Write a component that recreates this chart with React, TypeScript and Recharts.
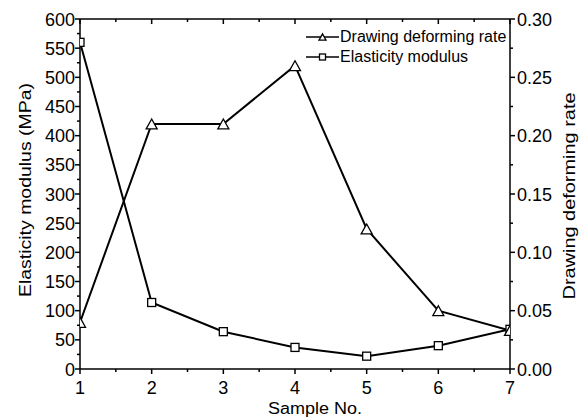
import React from "react";
import { ComposedChart, Line, XAxis, YAxis } from "recharts";

const samples = [1, 2, 3, 4, 5, 6, 7];
const drawingRate = [0.04, 0.21, 0.21, 0.26, 0.12, 0.05, 0.033];
const elasticity = [560, 114, 64, 37, 22, 40, 68];

const xMajor = [1, 2, 3, 4, 5, 6, 7];
const xAll = [1, 1.5, 2, 2.5, 3, 3.5, 4, 4.5, 5, 5.5, 6, 6.5, 7];
const leftMajor = [0, 50, 100, 150, 200, 250, 300, 350, 400, 450, 500, 550, 600];
const leftAll = [
  0, 25, 50, 75, 100, 125, 150, 175, 200, 225, 250, 275, 300, 325, 350, 375, 400, 425, 450, 475,
  500, 525, 550, 575, 600,
];
const rightMajor = [0, 0.05, 0.1, 0.15, 0.2, 0.25, 0.3];
const rightAll = [0, 0.025, 0.05, 0.075, 0.1, 0.125, 0.15, 0.175, 0.2, 0.225, 0.25, 0.275, 0.3];

const SERIES_RATE = "Drawing deforming rate";
const SERIES_MOD = "Elasticity modulus";

const data = samples.map((s, i) => ({ sample: s, rate: drawingRate[i], modulus: elasticity[i] }));

const W = 582;
const H = 417;
const PLOT = { left: 80, right: 510, top: 19, bottom: 369 };
const FONT = "'Liberation Sans', Arial, sans-serif";
const TICK_FS = 18;
const STROKE = "#000";

const isMajor = (list: number[], v: number) => list.some((m) => Math.abs(m - v) < 1e-9);

function BottomTick(props: any) {
  const { x, y, payload } = props;
  const major = isMajor(xMajor, payload.value);
  return (
    <g>
      <line x1={x} y1={y} x2={x} y2={y + (major ? 5 : 3)} stroke={STROKE} strokeWidth={1.5} />
      {major && (
        <text x={x} y={y + 25} textAnchor="middle" fontSize={TICK_FS} fontFamily={FONT} fill="#000">
          {payload.value}
        </text>
      )}
    </g>
  );
}

function TopTick(props: any) {
  const { x, y, payload } = props;
  const major = isMajor(xMajor, payload.value);
  return <line x1={x} y1={y} x2={x} y2={y + (major ? 5 : 3)} stroke={STROKE} strokeWidth={1.5} />;
}

function LeftTick(props: any) {
  const { x, y, payload } = props;
  const major = isMajor(leftMajor, payload.value);
  return (
    <g>
      <line x1={x} y1={y} x2={x - (major ? 5 : 3)} y2={y} stroke={STROKE} strokeWidth={1.5} />
      {major && (
        <text x={x - 5} y={y + 6.5} textAnchor="end" fontSize={TICK_FS} fontFamily={FONT} fill="#000">
          {payload.value}
        </text>
      )}
    </g>
  );
}

function RightTick(props: any) {
  const { x, y, payload } = props;
  const major = isMajor(rightMajor, payload.value);
  return (
    <g>
      <line x1={x} y1={y} x2={x + (major ? 5 : 3)} y2={y} stroke={STROKE} strokeWidth={1.5} />
      {major && (
        <text x={x + 7} y={y + 6.5} textAnchor="start" fontSize={TICK_FS} fontFamily={FONT} fill="#000">
          {payload.value.toFixed(2)}
        </text>
      )}
    </g>
  );
}

function AxisTitle({
  tx,
  ty,
  rot,
  len,
  fs = 16.5,
  text,
}: {
  tx: number;
  ty: number;
  rot: number;
  len: number;
  fs?: number;
  text: string;
}) {
  return (
    <text
      x={tx}
      y={ty}
      transform={rot ? `rotate(${rot} ${tx} ${ty})` : undefined}
      textAnchor="middle"
      fontSize={fs}
      fontFamily={FONT}
      textLength={len}
      lengthAdjust="spacingAndGlyphs"
      fill="#000"
    >
      {text}
    </text>
  );
}

function TriangleMark({ cx, cy, size = 11 }: { cx: number; cy: number; size?: number }) {
  const h = size * 0.9;
  const pts = `${cx},${cy - h / 2} ${cx - size / 2},${cy + h / 2} ${cx + size / 2},${cy + h / 2}`;
  return <polygon points={pts} fill="#fff" stroke={STROKE} strokeWidth={1.3} />;
}

function SquareMark({ cx, cy, size = 8 }: { cx: number; cy: number; size?: number }) {
  return (
    <rect x={cx - size / 2} y={cy - size / 2} width={size} height={size} fill="#fff" stroke={STROKE} strokeWidth={1.3} />
  );
}

function LegendBox() {
  const rows = [
    { name: SERIES_RATE, mark: "tri" },
    { name: SERIES_MOD, mark: "sq" },
  ];
  return (
    <div
      style={{
        position: "absolute",
        left: 306,
        top: 27,
        fontFamily: FONT,
        fontSize: 16,
        lineHeight: "20px",
        color: "#000",
      }}
    >
      {rows.map((r) => (
        <div key={r.name} style={{ display: "flex", alignItems: "center", height: 20 }}>
          <svg width={33} height={20} style={{ display: "block" }}>
            <line x1={0} y1={10} x2={33} y2={10} stroke={STROKE} strokeWidth={1.5} />
            {r.mark === "tri" ? <TriangleMark cx={16.5} cy={10} size={7} /> : <SquareMark cx={16.5} cy={10} size={6} />}
          </svg>
          <span style={{ marginLeft: 1, whiteSpace: "nowrap" }}>{r.name}</span>
        </div>
      ))}
    </div>
  );
}

export default function App() {
  return (
    <div style={{ position: "absolute", left: 0, top: 0, width: W, height: H, background: "#fff" }}>
      <ComposedChart
        width={W}
        height={H}
        data={data}
        margin={{ top: 0, right: 0, bottom: 0, left: 0 }}
      >
        <XAxis
          dataKey="sample"
          type="number"
          domain={[1, 7]}
          allowDataOverflow
          ticks={xAll}
          interval={0}
          height={H - PLOT.bottom}
          tickSize={0}
          tickMargin={0}
          tick={<BottomTick />}
          axisLine={{ stroke: STROKE, strokeWidth: 1.5 }}
          label={<AxisTitle tx={315} ty={414} rot={0} len={94} fs={16} text="Sample No." />}
        />
        <XAxis
          xAxisId="top"
          dataKey="sample"
          orientation="top"
          type="number"
          domain={[1, 7]}
          ticks={xAll}
          interval={0}
          height={PLOT.top}
          tickSize={0}
          tickMargin={0}
          tick={<TopTick />}
          axisLine={{ stroke: STROKE, strokeWidth: 1.5 }}
        />
        <YAxis
          yAxisId="left"
          domain={[0, 600]}
          ticks={leftAll}
          interval={0}
          width={PLOT.left}
          tickSize={0}
          tickMargin={0}
          tick={<LeftTick />}
          axisLine={{ stroke: STROKE, strokeWidth: 1.5 }}
          label={<AxisTitle tx={31} ty={190} rot={-90} len={214} text="Elasticity modulus (MPa)" />}
        />
        <YAxis
          yAxisId="right"
          orientation="right"
          domain={[0, 0.3]}
          ticks={rightAll}
          interval={0}
          width={W - PLOT.right}
          tickSize={0}
          tickMargin={0}
          tick={<RightTick />}
          axisLine={{ stroke: STROKE, strokeWidth: 1.5 }}
          label={<AxisTitle tx={575} ty={196} rot={-90} len={207} text="Drawing deforming rate" />}
        />
        <Line
          yAxisId="left"
          dataKey="modulus"
          name={SERIES_MOD}
          stroke={STROKE}
          strokeWidth={2}
          isAnimationActive={false}
          dot={(p: any) => <SquareMark key={`s${p.index}`} cx={p.cx} cy={p.cy} />}
        />
        <Line
          yAxisId="right"
          dataKey="rate"
          name={SERIES_RATE}
          stroke={STROKE}
          strokeWidth={2}
          isAnimationActive={false}
          dot={(p: any) => <TriangleMark key={`t${p.index}`} cx={p.cx} cy={p.cy} />}
        />
      </ComposedChart>
      <LegendBox />
    </div>
  );
}
